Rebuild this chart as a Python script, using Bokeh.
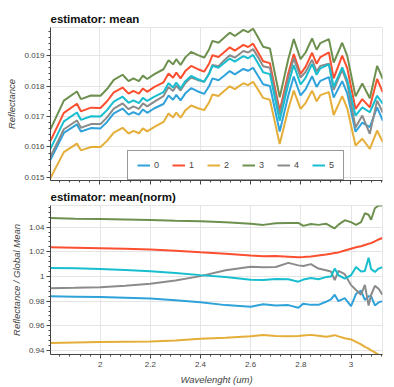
from bokeh.plotting import figure
from bokeh.layouts import column
from bokeh.models import Legend, LegendItem, Range1d, CustomJSTickFormatter
from bokeh.embed import file_html
from bokeh.resources import INLINE

# ---------------- data ----------------
series_names = ["0", "1", "2", "3", "4", "5"]
colors = ["#30a2da", "#fc4f30", "#e5ae38", "#6d904f", "#8b8b8b", "#17becf"]

wavelength = [1.802, 1.856, 1.908, 1.924, 1.964, 2.002, 2.028, 2.055, 2.090, 2.114,
              2.133, 2.155, 2.171, 2.188, 2.217, 2.253, 2.273, 2.291, 2.304, 2.321,
              2.340, 2.363, 2.388, 2.415, 2.435, 2.448, 2.472, 2.491, 2.517, 2.537,
              2.571, 2.590, 2.610, 2.630, 2.650, 2.677, 2.696, 2.716, 2.750, 2.772,
              2.799, 2.819, 2.845, 2.863, 2.878, 2.912, 2.931, 2.965, 2.985, 3.018,
              3.045, 3.075, 3.104, 3.127]

mean_0 = [0.01557, 0.01646, 0.01674, 0.01651, 0.01662, 0.01661, 0.01682, 0.01710, 0.01726, 0.01706,
          0.01714, 0.01706, 0.01723, 0.01712, 0.01727, 0.01741, 0.01769, 0.01755, 0.01771, 0.01753,
          0.01776, 0.01793, 0.01783, 0.01774, 0.01800, 0.01825, 0.01819, 0.01831, 0.01849, 0.01838,
          0.01856, 0.01850, 0.01860, 0.01833, 0.01806, 0.01800, 0.01727, 0.01651, 0.01768, 0.01831,
          0.01769, 0.01789, 0.01832, 0.01797, 0.01817, 0.01829, 0.01762, 0.01816, 0.01776, 0.01650,
          0.01680, 0.01665, 0.01730, 0.01686]
mean_1 = [0.01619, 0.01712, 0.01742, 0.01717, 0.01729, 0.01728, 0.01750, 0.01779, 0.01795, 0.01775,
          0.01784, 0.01775, 0.01792, 0.01781, 0.01797, 0.01812, 0.01841, 0.01827, 0.01844, 0.01825,
          0.01849, 0.01866, 0.01856, 0.01847, 0.01874, 0.01901, 0.01895, 0.01908, 0.01927, 0.01916,
          0.01935, 0.01928, 0.01939, 0.01910, 0.01881, 0.01875, 0.01798, 0.01719, 0.01841, 0.01905,
          0.01840, 0.01863, 0.01909, 0.01873, 0.01895, 0.01910, 0.01825, 0.01900, 0.01859, 0.01725,
          0.01757, 0.01730, 0.01823, 0.01779]
mean_2 = [0.01497, 0.01583, 0.01611, 0.01589, 0.01600, 0.01600, 0.01620, 0.01647, 0.01663, 0.01644,
          0.01653, 0.01645, 0.01661, 0.01651, 0.01666, 0.01682, 0.01710, 0.01697, 0.01713, 0.01696,
          0.01720, 0.01736, 0.01728, 0.01721, 0.01747, 0.01772, 0.01767, 0.01781, 0.01799, 0.01790,
          0.01809, 0.01803, 0.01814, 0.01788, 0.01761, 0.01755, 0.01684, 0.01610, 0.01724, 0.01785,
          0.01725, 0.01744, 0.01785, 0.01750, 0.01770, 0.01780, 0.01705, 0.01767, 0.01727, 0.01605,
          0.01627, 0.01594, 0.01654, 0.01615]
mean_3 = [0.01657, 0.01752, 0.01782, 0.01757, 0.01769, 0.01768, 0.01790, 0.01820, 0.01837, 0.01816,
          0.01825, 0.01816, 0.01834, 0.01823, 0.01839, 0.01855, 0.01885, 0.01871, 0.01888, 0.01869,
          0.01894, 0.01912, 0.01902, 0.01893, 0.01921, 0.01948, 0.01942, 0.01956, 0.01975, 0.01964,
          0.01984, 0.01977, 0.01988, 0.01959, 0.01929, 0.01923, 0.01844, 0.01763, 0.01888, 0.01954,
          0.01888, 0.01910, 0.01956, 0.01919, 0.01941, 0.01954, 0.01877, 0.01942, 0.01899, 0.01766,
          0.01808, 0.01760, 0.01866, 0.01823]
mean_4 = [0.01567, 0.01658, 0.01687, 0.01663, 0.01675, 0.01675, 0.01697, 0.01726, 0.01743, 0.01724,
          0.01733, 0.01725, 0.01743, 0.01733, 0.01749, 0.01767, 0.01797, 0.01784, 0.01801, 0.01785,
          0.01810, 0.01828, 0.01820, 0.01814, 0.01842, 0.01869, 0.01865, 0.01881, 0.01901, 0.01893,
          0.01915, 0.01910, 0.01921, 0.01894, 0.01865, 0.01860, 0.01784, 0.01706, 0.01827, 0.01891,
          0.01828, 0.01846, 0.01886, 0.01848, 0.01866, 0.01873, 0.01787, 0.01853, 0.01809, 0.01664,
          0.01703, 0.01643, 0.01752, 0.01712]
mean_5 = [0.01593, 0.01684, 0.01713, 0.01689, 0.01701, 0.01700, 0.01721, 0.01749, 0.01765, 0.01745,
          0.01753, 0.01744, 0.01761, 0.01751, 0.01765, 0.01780, 0.01809, 0.01795, 0.01811, 0.01792,
          0.01816, 0.01833, 0.01823, 0.01814, 0.01840, 0.01866, 0.01860, 0.01873, 0.01890, 0.01880,
          0.01898, 0.01891, 0.01902, 0.01874, 0.01845, 0.01839, 0.01764, 0.01686, 0.01806, 0.01869,
          0.01805, 0.01827, 0.01872, 0.01837, 0.01858, 0.01871, 0.01797, 0.01861, 0.01820, 0.01703,
          0.01730, 0.01714, 0.01768, 0.01741]

norm_wavelength = [1.80, 1.90, 2.00, 2.10, 2.20, 2.30, 2.40, 2.50, 2.60, 2.65,
                   2.70, 2.75, 2.79, 2.81, 2.84, 2.87, 2.90, 2.92, 2.935, 2.95,
                   2.975, 3.00, 3.02, 3.04, 3.055, 3.07, 3.08, 3.095, 3.11, 3.125]

norm_0 = [0.9839, 0.9836, 0.9833, 0.9828, 0.9822, 0.9808, 0.9791, 0.9768, 0.9755, 0.9775,
          0.9765, 0.9768, 0.9747, 0.9780, 0.9770, 0.9770, 0.9795, 0.9815, 0.9852, 0.9800,
          0.9825, 0.9760, 0.9860, 0.9885, 0.9810, 0.9840, 0.9840, 0.9765, 0.9790, 0.9800]
norm_1 = [1.0236, 1.0232, 1.0228, 1.0224, 1.0218, 1.0208, 1.0196, 1.0185, 1.0170, 1.0163,
          1.0165, 1.0160, 1.0156, 1.0157, 1.0162, 1.0170, 1.0178, 1.0185, 1.0190, 1.0195,
          1.0210, 1.0225, 1.0237, 1.0245, 1.0255, 1.0265, 1.0270, 1.0285, 1.0300, 1.0312]
norm_2 = [0.9461, 0.9465, 0.9469, 0.9471, 0.9473, 0.9482, 0.9495, 0.9503, 0.9515, 0.9525,
          0.9518, 0.9516, 0.9518, 0.9522, 0.9527, 0.9520, 0.9512, 0.9518, 0.9525, 0.9515,
          0.9500, 0.9490, 0.9470, 0.9450, 0.9430, 0.9415, 0.9402, 0.9385, 0.9365, 0.9350]
norm_3 = [1.0474, 1.0468, 1.0465, 1.0462, 1.0458, 1.0452, 1.0448, 1.0440, 1.0428, 1.0418,
          1.0432, 1.0434, 1.0434, 1.0410, 1.0425, 1.0418, 1.0428, 1.0405, 1.0390, 1.0420,
          1.0455, 1.0440, 1.0418, 1.0440, 1.0512, 1.0500, 1.0460, 1.0553, 1.0575, 1.0575]
norm_4 = [0.9905, 0.9908, 0.9913, 0.9925, 0.9942, 0.9968, 1.0003, 1.0050, 1.0078, 1.0075,
          1.0077, 1.0110, 1.0090, 1.0085, 1.0100, 1.0064, 1.0050, 1.0040, 0.9971, 1.0045,
          1.0019, 0.9930, 0.9890, 0.9852, 0.9932, 0.9765, 0.9850, 0.9924, 0.9900, 0.9852]
norm_5 = [1.0069, 1.0066, 1.0060, 1.0052, 1.0042, 1.0028, 1.0011, 0.9995, 0.9974, 0.9972,
          0.9980, 0.9978, 0.9958, 0.9975, 0.9988, 0.9978, 0.9995, 1.0000, 1.0064, 1.0010,
          0.9983, 1.0010, 1.0077, 1.0040, 1.0045, 1.0151, 1.0060, 1.0037, 1.0064, 1.0075]

mean_series = [mean_0, mean_1, mean_2, mean_3, mean_4, mean_5]
norm_series = [norm_0, norm_1, norm_2, norm_3, norm_4, norm_5]

FONT = "Liberation Sans"
TXT = "#444444"


def style(p):
    p.title.text_font = FONT
    p.title.text_font_size = "11.5px"
    p.title.text_font_style = "bold"
    p.title.text_color = "#111111"
    p.title.standoff = 6
    p.outline_line_color = "#e5e5e5"
    p.background_fill_color = "white"
    p.border_fill_color = "white"
    for g in (p.xgrid, p.ygrid):
        g.grid_line_color = "#e5e5e5"
        g.grid_line_width = 1
    for ax in (p.xaxis, p.yaxis):
        ax.axis_line_color = TXT
        ax.major_tick_line_color = TXT
        ax.minor_tick_line_color = TXT
        ax.major_tick_out = 4
        ax.major_tick_in = 0
        ax.minor_tick_out = 2
        ax.minor_tick_in = 0
        ax.major_label_text_font = FONT
        ax.major_label_text_font_size = "8px"
        ax.major_label_text_color = TXT
        ax.major_label_standoff = 2
        ax.axis_label_text_font = FONT
        ax.axis_label_text_font_size = "9.5px"
        ax.axis_label_text_font_style = "italic"
        ax.axis_label_text_color = TXT
        ax.axis_label_standoff = 4


# ---------------- top panel ----------------
p1 = figure(width=394, height=185, title="estimator: mean",
            x_range=Range1d(1.8028, 3.1255), y_range=Range1d(0.0149, 0.01992),
            output_backend="svg", toolbar_location=None,
            min_border_left=50, min_border_right=12, min_border_top=27, min_border_bottom=5)
style(p1)
p1.yaxis.axis_label = "Reflectance"
p1.xaxis.formatter = CustomJSTickFormatter(code="return ''")
p1.xaxis.major_label_standoff = 0

renderers = []
for name, ys, c in zip(series_names, mean_series, colors):
    r = p1.line(wavelength, ys, line_color=c, line_width=2)
    renderers.append(r)

legend = Legend(items=[LegendItem(label=n, renderers=[r]) for n, r in zip(series_names, renderers)],
                orientation="horizontal", location=(77, 0))
legend.glyph_width = 13
legend.glyph_height = 8
legend.label_height = 8
legend.label_width = 5
legend.label_standoff = 4
legend.spacing = 13
legend.padding = 9
legend.margin = 0
legend.label_text_font = FONT
legend.label_text_font_size = "9px"
legend.label_text_color = TXT
legend.border_line_color = "#333333"
legend.border_line_width = 1.5
legend.background_fill_color = "white"
legend.background_fill_alpha = 1.0
p1.add_layout(legend)

# ---------------- bottom panel ----------------
p2 = figure(width=394, height=202, title="estimator: mean(norm)",
            x_range=Range1d(1.8023, 3.1254), y_range=Range1d(0.9368, 1.0575),
            output_backend="svg", toolbar_location=None,
            min_border_left=50, min_border_right=0, min_border_top=19, min_border_bottom=33)
style(p2)
p2.yaxis.axis_label = "Reflectance / Global Mean"
p2.xaxis.axis_label = "Wavelenght (um)"
p2.xaxis.major_label_standoff = 3
p2.xaxis.axis_label_standoff = 4

for name, ys, c in zip(series_names, norm_series, colors):
    p2.line(norm_wavelength, ys, line_color=c, line_width=2)

layout = column(p1, p2, spacing=0)

open("out.html", "w").write(file_html(layout, INLINE))
